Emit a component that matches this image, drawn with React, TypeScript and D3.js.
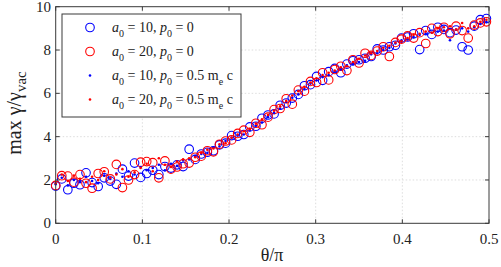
import React from "react";
import * as d3 from "d3";

const THETA = [0.000,0.007,0.014,0.021,0.028,0.035,0.042,0.049,0.056,0.063,0.070,0.077,0.084,0.091,0.098,0.105,0.112,0.119,0.126,0.133,0.140,0.147,0.154,0.161,0.168,0.175,0.182,0.189,0.196,0.203,0.210,0.217,0.224,0.231,0.238,0.245,0.252,0.259,0.266,0.273,0.280,0.287,0.294,0.301,0.308,0.315,0.322,0.329,0.336,0.343,0.350,0.357,0.364,0.371,0.378,0.385,0.392,0.399,0.406,0.413,0.420,0.427,0.434,0.441,0.448,0.455,0.462,0.469,0.476,0.483,0.490,0.497];

const A10_P0 = [1.72,2.05,1.55,1.85,1.78,2.33,1.88,1.70,2.10,1.95,1.80,2.50,2.18,2.78,2.12,2.30,2.45,2.25,2.62,2.55,2.70,2.62,3.42,2.95,3.20,3.28,3.35,3.62,3.70,4.05,4.02,4.10,4.45,4.48,4.85,5.00,5.05,5.45,5.55,5.78,5.95,6.35,6.40,6.78,6.60,7.00,7.15,6.95,7.35,7.50,7.55,7.62,7.70,8.05,8.00,8.15,8.22,8.55,8.60,8.75,8.02,8.90,8.72,9.05,8.95,8.80,8.92,8.15,8.00,9.10,9.40,9.45];

const A20_P0 = [1.75,2.20,2.18,1.90,2.25,1.85,1.62,2.30,2.38,2.05,2.72,1.65,2.00,2.25,2.82,2.85,2.80,2.10,2.88,2.50,2.60,2.75,2.78,3.05,3.10,3.35,3.30,3.65,3.80,3.85,4.15,4.30,4.20,4.62,4.55,4.90,5.25,5.30,5.75,5.50,6.15,6.10,6.55,6.50,6.95,6.62,7.10,7.25,7.05,7.55,7.40,7.85,7.75,7.95,8.15,7.70,8.35,8.50,8.65,8.55,8.80,8.30,9.00,8.85,9.05,8.75,9.10,8.90,8.55,9.15,9.25,9.30];

const A10_P05 = [1.80,2.10,1.75,2.00,1.90,2.15,1.95,1.85,2.20,2.05,2.30,2.15,2.40,2.25,2.60,2.45,2.55,2.70,2.45,2.75,2.65,2.90,2.95,3.10,3.20,3.25,3.50,3.55,3.80,3.95,4.05,4.10,4.30,4.50,4.65,4.90,5.10,5.30,5.60,5.80,5.95,6.20,6.45,6.60,6.75,6.85,7.00,7.10,7.30,7.35,7.45,7.50,7.80,7.85,8.00,8.10,8.30,8.45,8.50,8.60,8.70,8.75,8.80,8.85,8.90,8.45,8.95,9.00,8.85,9.05,9.20,9.30];

const A20_P05 = [1.85,2.25,1.95,2.20,2.05,1.90,2.15,2.00,2.40,2.10,2.25,2.50,2.15,2.35,2.55,2.75,2.40,3.00,2.70,2.60,2.85,2.95,3.00,3.05,3.25,3.40,3.45,3.65,3.70,3.95,4.10,4.25,4.35,4.60,4.80,5.00,5.20,5.40,5.65,5.90,6.10,6.30,6.50,6.70,6.85,6.95,7.05,7.20,7.25,7.45,7.60,7.75,7.85,7.95,8.10,8.20,8.35,8.40,8.55,8.70,8.75,8.85,8.80,9.00,9.05,9.10,8.95,9.25,9.00,9.10,9.30,9.40];

const X_TICKS = [0, 0.1, 0.2, 0.3, 0.4, 0.5];
const X_TICK_LABELS = ["0", "0.1", "0.2", "0.3", "0.4", "0.5"];
const Y_TICKS = [0, 2, 4, 6, 8, 10];
const Y_TICK_LABELS = ["0", "2", "4", "6", "8", "10"];

const SERIES_A0 = ["10", "20", "10", "20"];
const SERIES_P0 = ["0", "0", "0.5", "0.5"];
const SERIES_P0_UNIT = ["", "", " m", " m"];
const SERIES_VALUES = [A10_P0, A20_P0, A10_P05, A20_P05];
const SERIES_COLORS = ["#0000ff", "#ff0000", "#0000ff", "#ff0000"];
const SERIES_KIND = ["circle", "circle", "dot", "dot"];

const FONT = "'Liberation Serif', 'Times New Roman', serif";
const AXIS = "#3a3a3a";
const TXT = { fontFamily: FONT, whiteSpace: "pre" as const };

export default function App() {
  const left = 55.7, right = 489, top = 6.7, bottom = 223.3;
  const x = d3.scaleLinear().domain([0, 0.5]).range([left, right]);
  const y = d3.scaleLinear().domain([0, 10]).range([bottom, top]);
  const tick = 4;

  const marker = (kind: string, color: string, cx: number, cy: number, key: any) =>
    kind === "circle" ? (
      <circle key={key} cx={cx} cy={cy} r={4.3} fill="none" stroke={color} strokeWidth={1.1} />
    ) : (
      <circle key={key} cx={cx} cy={cy} r={1.3} fill={color} />
    );

  const legendY = [27.5, 51.5, 75.5, 99.5];

  return (
    <svg width={501} height={267} style={{ position: "absolute", left: 0, top: 0, background: "#fff" }}>
      <rect x={0} y={0} width={501} height={267} fill="#fff" />
      {X_TICKS.filter((t) => t > 0 && t < 0.5).map((t, i) => (
        <line key={"gx" + i} x1={x(t)} x2={x(t)} y1={top} y2={bottom} stroke="#d4d4d4" strokeWidth={0.8} strokeDasharray="1.5,2" />
      ))}
      {Y_TICKS.filter((t) => t > 0 && t < 10).map((t, i) => (
        <line key={"gy" + i} x1={left} x2={right} y1={y(t)} y2={y(t)} stroke="#d4d4d4" strokeWidth={0.8} strokeDasharray="1.5,2" />
      ))}
      {SERIES_VALUES.map((vals, s) => (
        <g key={"s" + s}>
          {vals.map((v, i) => marker(SERIES_KIND[s], SERIES_COLORS[s], x(THETA[i]), y(v), i))}
        </g>
      ))}
      <rect x={left} y={top} width={right - left} height={bottom - top} fill="none" stroke={AXIS} strokeWidth={1} />
      {X_TICKS.map((t, i) => (
        <g key={"xt" + i}>
          <line x1={x(t)} x2={x(t)} y1={bottom} y2={bottom - tick} stroke={AXIS} />
          <line x1={x(t)} x2={x(t)} y1={top} y2={top + tick} stroke={AXIS} />
          <text x={x(t)} y={244} fontSize={15} textAnchor="middle" fill="#222" style={TXT}>{X_TICK_LABELS[i]}</text>
        </g>
      ))}
      {Y_TICKS.map((t, i) => (
        <g key={"yt" + i}>
          <line x1={left} x2={left + tick} y1={y(t)} y2={y(t)} stroke={AXIS} />
          <line x1={right} x2={right - tick} y1={y(t)} y2={y(t)} stroke={AXIS} />
          <text x={51} y={y(t) + 5} fontSize={15} textAnchor="end" fill="#222" style={TXT}>{Y_TICK_LABELS[i]}</text>
        </g>
      ))}
      <text x={272} y={261} fontSize={18} textAnchor="middle" fill="#222" style={TXT}>θ/π</text>
      <text transform="translate(21,113) rotate(-90)" fontSize={20} textAnchor="middle" fill="#222" style={TXT}>
        max γ/γ<tspan fontSize={15} dy={5}>vac</tspan>
      </text>
      <rect x={62} y={14} width={179} height={103} fill="#fff" stroke={AXIS} strokeWidth={1} />
      {SERIES_A0.map((a0, s) => (
        <g key={"lg" + s}>
          {marker(SERIES_KIND[s], SERIES_COLORS[s], 90, legendY[s], "m")}
          <text x={112} y={legendY[s] + 4} fontSize={14} fill="#222" style={TXT}>
            <tspan fontStyle="italic">a</tspan>
            <tspan fontSize={10} dy={5}>0</tspan>
            <tspan dy={-5}>{" = " + a0 + ", "}</tspan>
            <tspan fontStyle="italic">p</tspan>
            <tspan fontSize={10} dy={5}>0</tspan>
            <tspan dy={-5}>{" = " + SERIES_P0[s] + SERIES_P0_UNIT[s]}</tspan>
            {SERIES_P0_UNIT[s] ? (
              <>
                <tspan fontSize={10} dy={5}>e</tspan>
                <tspan dy={-5}>{" c"}</tspan>
              </>
            ) : null}
          </text>
        </g>
      ))}
    </svg>
  );
}
